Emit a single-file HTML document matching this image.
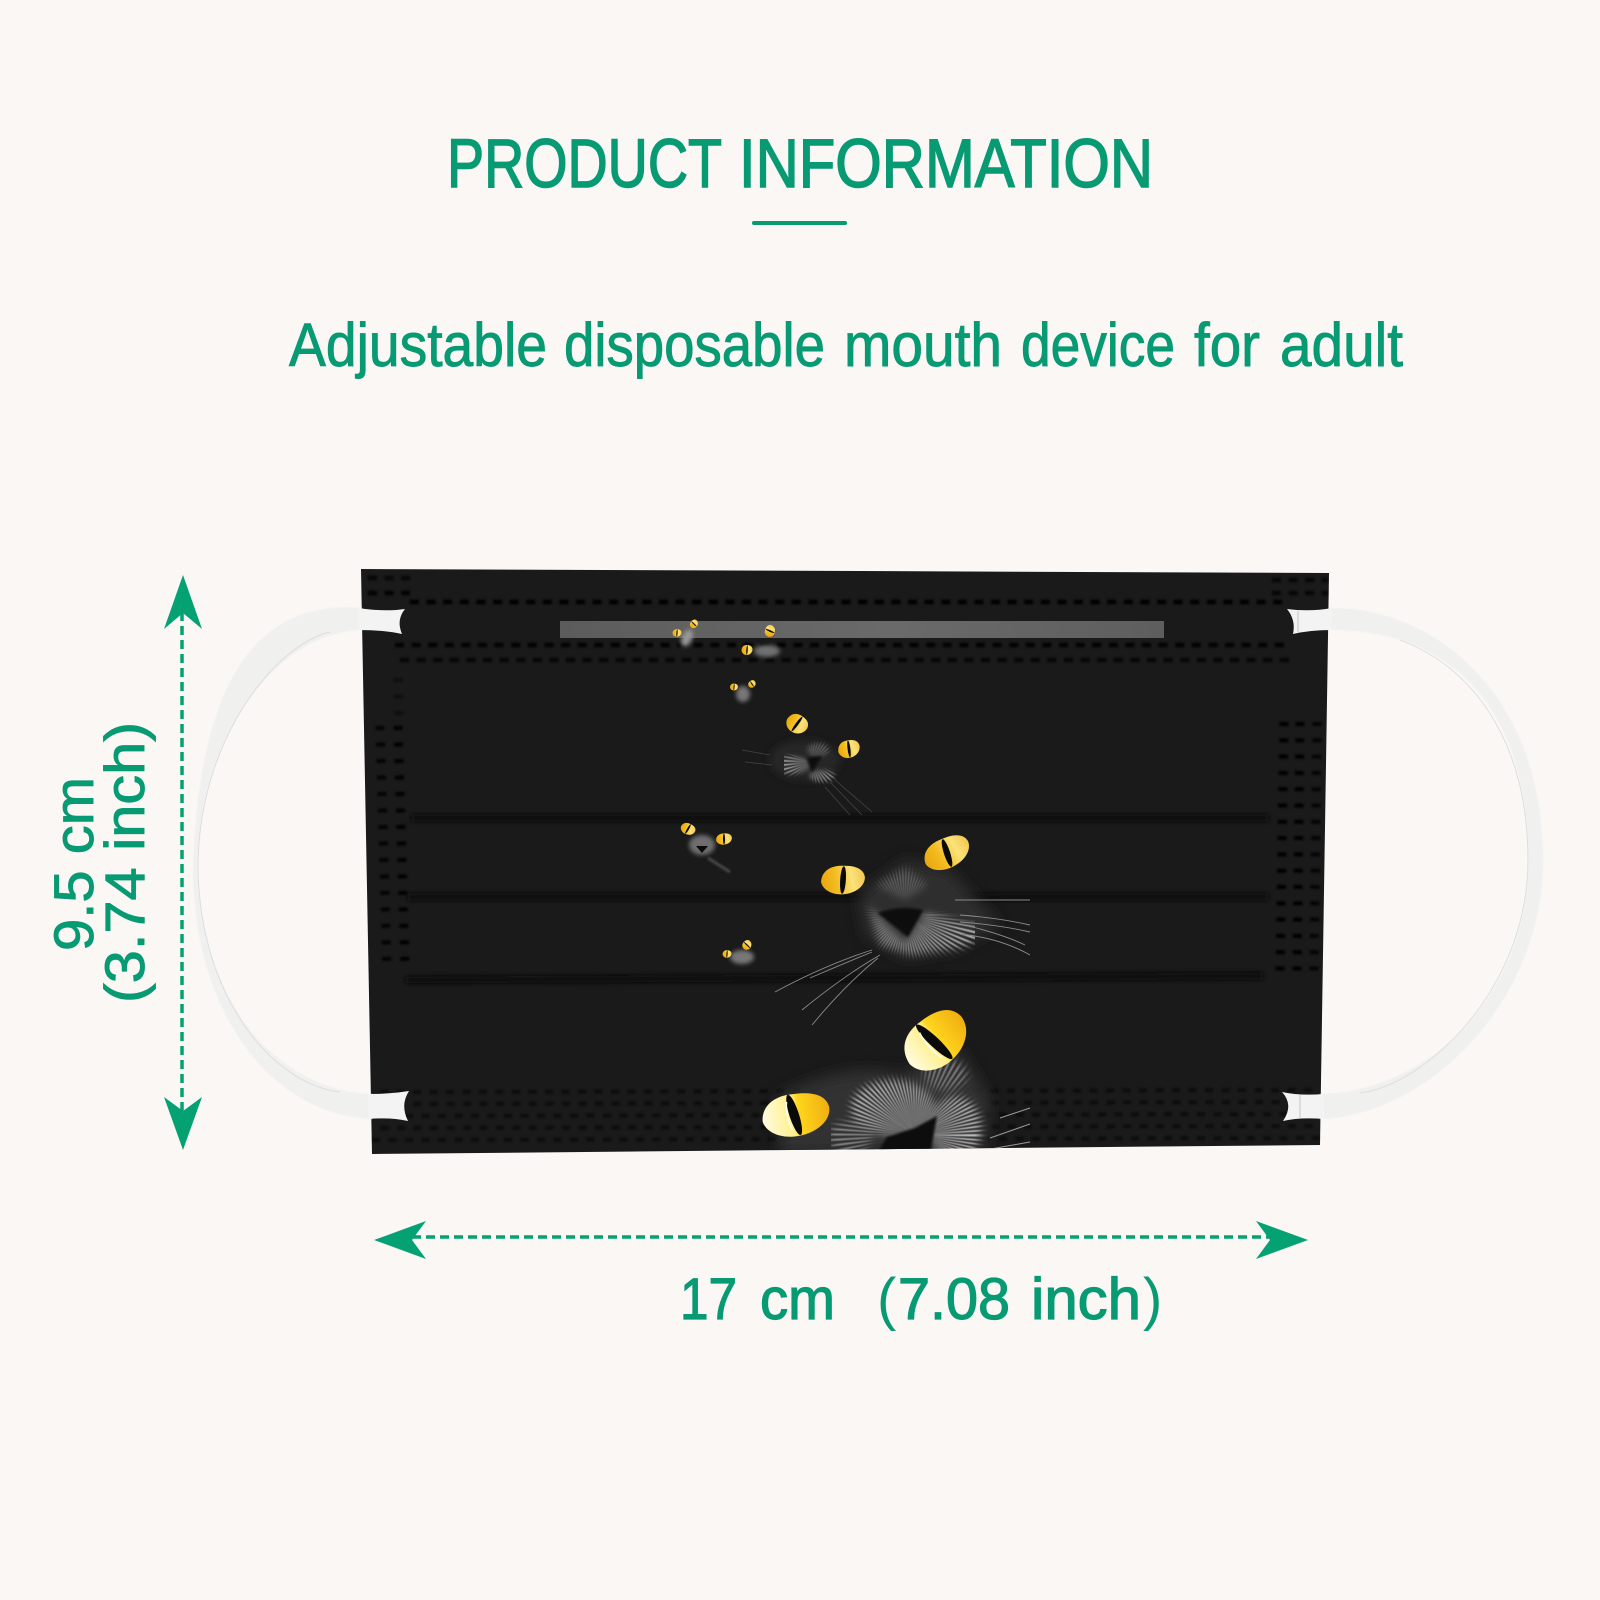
<!DOCTYPE html>
<html><head><meta charset="utf-8"><style>
html,body{margin:0;padding:0;background:#fbf7f5}
svg{display:block}
text{font-family:"Liberation Sans",sans-serif;fill:#079a73;stroke:#079a73}
</style></head><body>
<svg xmlns="http://www.w3.org/2000/svg" width="1600" height="1600" viewBox="0 0 1600 1600">
<defs>
<linearGradient id="eyeG" x1="0" x2="1" y1="0.5" y2="0.4"><stop offset="0" stop-color="#e8a80e"/><stop offset=".35" stop-color="#f4bd22"/><stop offset=".7" stop-color="#fbe27a"/><stop offset="1" stop-color="#f2c850"/></linearGradient>
<linearGradient id="eyeB" x1="0" x2="1" y1="0.5" y2="0.5"><stop offset="0" stop-color="#fffbe0"/><stop offset=".45" stop-color="#fff08a"/><stop offset=".55" stop-color="#ffd51c"/><stop offset="1" stop-color="#f0ae12"/></linearGradient>
<linearGradient id="strip" x1="0" x2="1" y1="0" y2="0"><stop offset="0" stop-color="#5c5c5c"/><stop offset=".55" stop-color="#6a6a6a"/><stop offset="1" stop-color="#5e5e5e"/></linearGradient>
<g id="eye"><path d="M-1 .05C-.95-.45-.5-.65 0-.62 .5-.62.95-.5 1-.1 1 .3.55.6 0 .62-.5.65-.95.4-1 .05Z" fill="url(#eyeG)"/><ellipse cx="0" cy="0" rx=".13" ry=".6" fill="#0a0a0a" transform="rotate(6)"/></g>
<g id="eyeBig"><path d="M-1 .05C-.95-.45-.5-.65 0-.62 .5-.62.95-.5 1-.1 1 .3.55.6 0 .62-.5.65-.95.4-1 .05Z" fill="url(#eyeB)"/><ellipse cx="-.05" cy="-.02" rx=".14" ry=".62" fill="#0a0a0a" transform="rotate(-10)"/><path d="M-.22-.42Q-.32 0-.16.42" stroke="#fff" stroke-width=".04" fill="none"/></g>
<filter id="b0" x="-5%" y="-5%" width="110%" height="110%"><feGaussianBlur stdDeviation=".4"/></filter>
<filter id="b05" x="-20%" y="-20%" width="140%" height="140%"><feGaussianBlur stdDeviation=".45"/></filter>
<filter id="b1" x="-20%" y="-20%" width="140%" height="140%"><feGaussianBlur stdDeviation="1.1"/></filter>
<filter id="b2" x="-50%" y="-50%" width="200%" height="200%"><feGaussianBlur stdDeviation="2.2"/></filter>
<filter id="b4" x="-50%" y="-50%" width="200%" height="200%"><feGaussianBlur stdDeviation="7"/></filter>
<filter id="b6" x="-50%" y="-50%" width="200%" height="200%"><feGaussianBlur stdDeviation="4"/></filter>
<clipPath id="maskClip"><path d="M361 569L1329 573 1320 1145 372 1154Z"/></clipPath>
<mask id="mA" maskUnits="userSpaceOnUse" x="780" y="820" width="280" height="180"><g filter="url(#b6)" fill="#fff">
 <path d="M868 905L905 942 925 912 998 932 960 948 912 955 880 945Z"/><path d="M875 885L905 868 928 885 905 900Z" fill="#888"/></g></mask>
<mask id="mB" maskUnits="userSpaceOnUse" x="780" y="1020" width="260" height="140"><g filter="url(#b6)" fill="#fff">
 <ellipse cx="893" cy="1108" rx="42" ry="28"/><ellipse cx="955" cy="1128" rx="26" ry="32"/><ellipse cx="850" cy="1137" rx="22" ry="16" fill="#999"/><ellipse cx="945" cy="1075" rx="22" ry="16" fill="#888"/></g></mask>
<mask id="mE" maskUnits="userSpaceOnUse" x="760" y="730" width="110" height="70"><g filter="url(#b2)" fill="#fff">
 <ellipse cx="791" cy="765" rx="19" ry="9"/><ellipse cx="818" cy="750" rx="11" ry="7" fill="#aaa"/><ellipse cx="822" cy="776" rx="13" ry="6"/></g></mask>
</defs>
<rect width="1600" height="1600" fill="#fbf7f5"/>

<!-- Headings -->
<g font-size="69" stroke-width="1.5">
<text x="447" y="187" textLength="275" lengthAdjust="spacingAndGlyphs">PRODUCT</text>
<text x="739" y="187" textLength="414" lengthAdjust="spacingAndGlyphs">INFORMATION</text>
</g>
<rect x="752" y="221" width="95" height="4" rx="2" fill="#079a73"/>
<g font-size="61" stroke-width=".9">
<text x="289" y="366" textLength="258" lengthAdjust="spacingAndGlyphs">Adjustable</text>
<text x="564" y="366" textLength="261" lengthAdjust="spacingAndGlyphs">disposable</text>
<text x="844" y="366" textLength="158" lengthAdjust="spacingAndGlyphs">mouth</text>
<text x="1021" y="366" textLength="154" lengthAdjust="spacingAndGlyphs">device</text>
<text x="1194" y="366" textLength="66" lengthAdjust="spacingAndGlyphs">for</text>
<text x="1280" y="366" textLength="123" lengthAdjust="spacingAndGlyphs">adult</text>
</g>

<!-- Mask body -->
<path d="M361 569L1329 573 1320 1145 372 1154Z" fill="#1a1a1a"/>
<g clip-path="url(#maskClip)">
 <g filter="url(#b1)" fill="none" stroke="#050505">
  <g stroke-width="4.5" stroke-dasharray="9 7.6">
   <line x1="368" y1="578" x2="410" y2="578" opacity=".7"/>
   <line x1="368" y1="593" x2="410" y2="593" opacity=".9"/>
   <line x1="410" y1="602" x2="1290" y2="602"/>
   <line x1="395" y1="645" x2="1290" y2="645" opacity=".9"/>
   <line x1="400" y1="660" x2="1290" y2="660" opacity=".75"/>
   <line x1="1272" y1="580" x2="1328" y2="580" opacity=".7"/>
   <line x1="1272" y1="593" x2="1328" y2="593" opacity=".7"/>
  </g>
  <g stroke-width="9" stroke-dasharray="4 12.5">
   <line x1="380" y1="726" x2="387" y2="965" opacity=".85"/>
   <line x1="398" y1="726" x2="405" y2="965" opacity=".95"/>
   <line x1="398" y1="678" x2="399" y2="722" opacity=".4"/>
  </g>
  <g stroke-width="9" stroke-dasharray="4 12.3">
   <line x1="1284" y1="722" x2="1280" y2="975"/>
   <line x1="1300" y1="722" x2="1297" y2="975"/>
   <line x1="1317" y1="722" x2="1314" y2="975" opacity=".8"/>
  </g>
  <g stroke-width="4" opacity=".5" stroke-dasharray="8 8.5">
   <line x1="380" y1="1092" x2="1320" y2="1090"/>
   <line x1="372" y1="1104" x2="1320" y2="1102" stroke-dashoffset="8"/>
   <line x1="372" y1="1116" x2="1320" y2="1114"/>
   <line x1="372" y1="1128" x2="1320" y2="1126" stroke-dashoffset="8"/>
   <line x1="372" y1="1140" x2="1320" y2="1138"/>
  </g>
 </g>
 <g stroke="#070707" stroke-width="7" filter="url(#b2)" fill="none">
  <line x1="412" y1="818" x2="1268" y2="818"/>
  <line x1="408" y1="897" x2="1268" y2="897"/>
  <line x1="406" y1="980" x2="1263" y2="976"/>
 </g>
 <rect x="560" y="621" width="604" height="17" fill="url(#strip)"/>

 <!-- Bottom cat -->
 <g>
  <path d="M780 1095Q850 1060 900 1075L960 1050 990 1100 985 1154H780Z" fill="#303030" filter="url(#b4)"/>
  <g mask="url(#mB)"><circle cx="915" cy="1135" r="60" fill="none" stroke="#c8c8c8" stroke-width="118" stroke-dasharray="1.6 2.4" filter="url(#b05)"/></g>
  <path d="M877 1154L887 1137 915 1128 937 1116 930 1154Z" fill="#0a0a0a" filter="url(#b1)"/>
  <g stroke="#9a9a9a" stroke-width="1" fill="none"><path d="M1000 1118L1030 1108"/><path d="M990 1138L1030 1124"/><path d="M985 1150L1030 1142"/></g>
  <use href="#eyeBig" transform="translate(796,1115) rotate(-8) scale(34,34)"/>
  <use href="#eyeBig" transform="translate(936,1041) rotate(-38) scale(35,40)"/>
 </g>

 <!-- Middle cat -->
 <g>
  <path d="M858 895L905 860 950 870 1000 925 955 950 905 958 865 935Z" fill="#2e2e2e" filter="url(#b4)"/>
  <g mask="url(#mA)"><circle cx="905" cy="915" r="50" fill="none" stroke="#bfbfbf" stroke-width="96" stroke-dasharray="1.5 2.3" filter="url(#b05)"/></g>
  <path d="M878 913Q900 905 923 910L908 937Z" fill="#090909" filter="url(#b1)"/>
  <g stroke="#8a8a8a" stroke-width=".9" fill="none">
   <path d="M872 950Q825 965 775 992"/><path d="M872 952Q840 965 810 978"/><path d="M880 955Q845 975 802 1010"/><path d="M878 958Q845 985 812 1025"/>
   <path d="M960 915Q1000 918 1030 925"/><path d="M960 922Q1000 925 1030 932"/><path d="M965 925Q1005 935 1025 945"/><path d="M960 934Q1000 938 1030 955"/><path d="M955 900Q1000 900 1030 900"/>
  </g>
  <use href="#eye" transform="translate(843,880) rotate(-2) scale(22,23)"/>
  <use href="#eye" transform="translate(947,853) rotate(-24) scale(24,24)"/>
 </g>

 <!-- Upper large-ish cat -->
 <g>
  <ellipse cx="805" cy="760" rx="35" ry="20" fill="#282828" filter="url(#b6)"/>
  <g mask="url(#mE)"><circle cx="812" cy="762" r="20" fill="none" stroke="#b0b0b0" stroke-width="38" stroke-dasharray="1.2 1.8" filter="url(#b05)"/></g>
  <path d="M807 758L822 756 812 772Z" fill="#0a0a0a" filter="url(#b1)"/>
  <g stroke="#444" stroke-width=".8" fill="none"><path d="M830 782L862 815"/><path d="M835 780L872 812"/><path d="M825 787L850 815"/><path d="M770 755L742 750"/><path d="M772 765L745 762"/></g>
  <use href="#eye" transform="translate(797,724) rotate(32) scale(11,15)"/>
  <use href="#eye" transform="translate(849,749) rotate(-12) scale(11,14)"/>
 </g>

 <!-- Small cat row 3 -->
 <g>
  <ellipse cx="702" cy="845" rx="13" ry="10" fill="#6e6e6e" filter="url(#b2)"/>
  <path d="M708 858L730 872" stroke="#4a4a4a" stroke-width="3" filter="url(#b1)"/>
  <path d="M696 846L708 846 702 853Z" fill="#0a0a0a"/>
  <use href="#eye" transform="translate(688,829) rotate(25) scale(7.5,9)"/>
  <use href="#eye" transform="translate(724,839) rotate(-6) scale(8,9)"/>
 </g>

 <!-- Tiny cats -->
 <g>
  <ellipse cx="742" cy="957" rx="12" ry="7" fill="#777" filter="url(#b2)"/>
  <use href="#eye" transform="translate(727,954) scale(4.5,6)"/>
  <use href="#eye" transform="translate(747,945) rotate(-50) scale(5,7)"/>
  <ellipse cx="687" cy="638" rx="5" ry="9" fill="#999" filter="url(#b2)" transform="rotate(25 687 638)"/>
  <use href="#eye" transform="translate(677,633) scale(4.5,6)"/>
  <use href="#eye" transform="translate(694,624) rotate(-50) scale(4.5,6)"/>
  <ellipse cx="767" cy="651" rx="13" ry="6" fill="#6f6f6f" filter="url(#b2)"/>
  <use href="#eye" transform="translate(747,650) scale(5.5,8)"/>
  <use href="#eye" transform="translate(770,631) rotate(-70) scale(6,8)"/>
  <ellipse cx="743" cy="694" rx="7" ry="8" fill="#777" filter="url(#b2)"/>
  <use href="#eye" transform="translate(734,687) scale(4,5.5)"/>
  <use href="#eye" transform="translate(752,684) rotate(-40) scale(4,5.5)"/>
 </g>
</g>

<!-- Ear loops -->
<g fill="#f0f0ef" filter="url(#b0)">
 <path d="M362 608C270 600 200 660 193 868 193 1010 270 1115 372 1119L372 1094C275 1090 200 1000 198 868 198 740 275 632 362 630Z"/>
 <path d="M1329 608C1430 606 1543 690 1543 860 1543 1000 1430 1115 1320 1119L1320 1094C1425 1092 1528 1000 1528 860 1528 685 1430 628 1328 630Z"/>
</g>
<g fill="none" stroke="#dcdcdc" stroke-width=".9">
 <path d="M330 632C275 645 198 740 198 868 200 1000 275 1085 340 1092"/>
 <path d="M1400 640C1480 670 1528 750 1528 860 1528 990 1425 1085 1360 1093"/>
</g>
<g fill="#f3f3f3">
 <path d="M358 608Q385 612 405 609 396 620 402 634 385 630 358 630Z"/>
 <path d="M368 1094Q390 1094 409 1091 400 1105 408 1121 390 1117 368 1119Z"/>
 <path d="M1332 608Q1310 612 1287 609 1296 620 1293 634 1310 630 1332 630Z"/>
 <path d="M1324 1094Q1300 1096 1282 1092 1294 1105 1283 1121 1300 1117 1324 1119Z"/>
</g>
<line x1="1298" y1="611" x2="1298" y2="632" stroke="#c4c4c4" stroke-width="1"/>
<line x1="1300" y1="1095" x2="1300" y2="1118" stroke="#c4c4c4" stroke-width="1"/>

<!-- Vertical dimension -->
<line x1="182" y1="612" x2="182" y2="1112" stroke="#04a172" stroke-width="3.5" stroke-dasharray="9 5"/>
<path d="M183 575L202 629 183 613 164 629Z" fill="#04a172"/>
<path d="M183 1150L202 1097 183 1111 164 1097Z" fill="#04a172"/>
<g font-size="56" stroke-width=".9">
<text transform="translate(93,951) rotate(-90)" textLength="174" lengthAdjust="spacingAndGlyphs">9.5 cm</text>
<text transform="translate(144,1003) rotate(-90)" textLength="281" lengthAdjust="spacingAndGlyphs">(3.74 inch)</text>
</g>

<!-- Horizontal dimension -->
<line x1="412" y1="1237" x2="1270" y2="1237" stroke="#04a172" stroke-width="3.5" stroke-dasharray="9 5"/>
<path d="M374 1240L426 1221 412 1240 426 1259Z" fill="#04a172"/>
<path d="M1308 1240L1256 1221 1270 1240 1256 1259Z" fill="#04a172"/>
<g font-size="58" stroke-width="1.2">
<text x="680" y="1319" textLength="57" lengthAdjust="spacingAndGlyphs">17</text>
<text x="760" y="1319" textLength="75" lengthAdjust="spacingAndGlyphs">cm</text>
<text x="877" y="1319" stroke-width="0">(</text>
<text x="898" y="1319" textLength="112" lengthAdjust="spacingAndGlyphs">7.08</text>
<text x="1031" y="1319" textLength="110" lengthAdjust="spacingAndGlyphs">inch</text>
<text x="1143" y="1319" stroke-width="0">)</text>
</g>
</svg>
</body></html>
